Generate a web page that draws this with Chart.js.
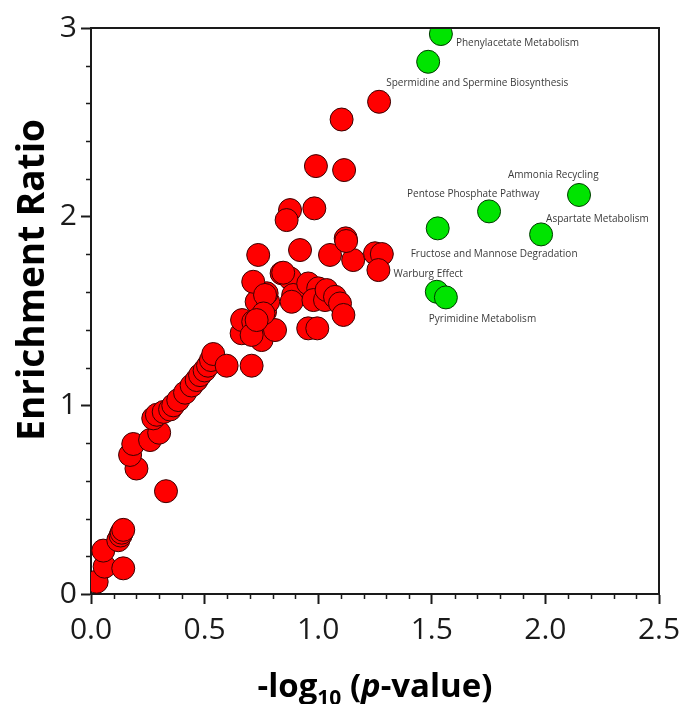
<!DOCTYPE html>
<html>
<head>
<meta charset="utf-8">
<script src="https://cdn.jsdelivr.net/npm/chart.js@4.4.1/dist/chart.umd.min.js"></script>
<style>
  html, body { margin: 0; padding: 0; background: #fff; }
  #wrap { width: 681px; height: 704px; }
</style>
</head>
<body>
<div id="wrap"><canvas id="c" width="681" height="704"></canvas></div>
<script>
// ---- data ----
const redX = [0.025, 0.06, 0.054, 0.142, 0.12, 0.13, 0.135, 0.142, 0.33, 0.20,
              0.172, 0.186, 0.26, 0.30, 0.274, 0.29, 0.32, 0.348, 0.362, 0.384,
              0.414, 0.443, 0.465, 0.48, 0.50, 0.515, 0.528, 0.538, 0.597, 0.707,
              0.663, 0.665, 0.714, 0.751, 0.707, 0.751, 0.766, 0.729, 0.78, 0.773,
              0.714, 0.736, 0.81, 0.839, 0.876, 0.89, 0.883, 0.956, 1.0, 0.979,
              1.03, 1.037, 1.074, 1.096, 1.111, 0.956, 0.996, 0.92, 1.052, 1.154,
              1.25, 1.28, 1.265, 1.121, 1.123, 0.876, 0.861, 0.983, 0.99, 1.114,
              1.103, 1.268, 0.846, 0.766, 0.759, 0.729];
const redY = [0.065, 0.145, 0.23, 0.136, 0.285, 0.31, 0.325, 0.34, 0.545, 0.665,
              0.737, 0.795, 0.816, 0.855, 0.931, 0.95, 0.965, 0.978, 1.0, 1.028,
              1.067, 1.105, 1.134, 1.16, 1.185, 1.21, 1.24, 1.272, 1.21, 1.21,
              1.382, 1.452, 1.443, 1.346, 1.373, 1.461, 1.496, 1.549, 1.549, 1.594,
              1.655, 1.797, 1.399, 1.70, 1.673, 1.585, 1.549, 1.646, 1.62, 1.558,
              1.558, 1.611, 1.575, 1.54, 1.479, 1.408, 1.408, 1.823, 1.797, 1.77,
              1.806, 1.802, 1.717, 1.885, 1.871, 2.035, 1.982, 2.044, 2.268, 2.247,
              2.515, 2.609, 1.703, 1.585, 1.487, 1.452];
const greenX = [1.540, 1.484, 2.148, 1.752, 1.981, 1.526, 1.522, 1.562];
const greenY = [2.968, 2.821, 2.115, 2.028, 1.906, 1.938, 1.602, 1.572];
const greenNames = ['Phenylacetate Metabolism', 'Spermidine and Spermine Biosynthesis',
                    'Ammonia Recycling', 'Pentose Phosphate Pathway', 'Aspartate Metabolism',
                    'Fructose and Mannose Degradation', 'Pyrimidine Metabolism', ''];
const redNamedIndex = 62;           // red point carrying a name
const redNamedText = 'Warburg Effect';
const xTicks = [0, 0.5, 1.0, 1.5, 2.0, 2.5];
const yTicks = [0, 1, 2, 3];

// ---- label placement (pixel offsets from the point, left-aligned text) ----
const labelOffsets = {
  'Phenylacetate Metabolism': [15, 9],
  'Spermidine and Spermine Biosynthesis': [-42, 21],
  'Ammonia Recycling': [-71, -20],
  'Pentose Phosphate Pathway': [-82, -17],
  'Aspartate Metabolism': [5, -15],
  'Fructose and Mannose Degradation': [-27, 26],
  'Pyrimidine Metabolism': [-8, 27],
  'Warburg Effect': [15, 4]
};

const toPts = (xs, ys) => xs.map((x, i) => ({ x: x, y: ys[i] }));

const FONT = "'Open Sans', 'Noto Sans', sans-serif";
const INK = '#1a1a1a';

const decorPlugin = {
  id: 'decor',
  afterDraw(chart) {
    const ctx = chart.ctx;
    const xs = chart.scales.x, ys = chart.scales.y;
    const a = chart.chartArea;
    ctx.save();
    // frame top & right
    ctx.strokeStyle = INK;
    ctx.lineWidth = 2;
    ctx.beginPath();
    ctx.moveTo(a.left, a.top); ctx.lineTo(a.right, a.top); ctx.lineTo(a.right, a.bottom);
    ctx.stroke();
    // minor ticks
    ctx.lineWidth = 1.5;
    ctx.beginPath();
    for (let i = 1; i < 25; i++) {
      if (i % 5 === 0) continue;
      const px = Math.round(xs.getPixelForValue(i / 10)) + 0.5;
      ctx.moveTo(px, a.bottom); ctx.lineTo(px, a.bottom + 5);
    }
    for (let i = 1; i < 15; i++) {
      if (i % 5 === 0) continue;
      const py = Math.round(ys.getPixelForValue(i * 0.2)) + 0.5;
      ctx.moveTo(a.left, py); ctx.lineTo(a.left - 5, py);
    }
    ctx.stroke();

    // point labels
    ctx.fillStyle = '#3a3a3a';
    ctx.font = "10px " + FONT;
    ctx.textAlign = 'left';
    ctx.textBaseline = 'middle';
    const drawLabel = (name, vx, vy) => {
      if (!name) return;
      const off = labelOffsets[name] || [12, 0];
      ctx.fillText(name, xs.getPixelForValue(vx) + off[0], ys.getPixelForValue(vy) + off[1]);
    };
    greenNames.forEach((n, i) => drawLabel(n, greenX[i], greenY[i]));
    drawLabel(redNamedText, redX[redNamedIndex], redY[redNamedIndex]);

    // y axis title
    ctx.fillStyle = '#000';
    ctx.font = "bold 37px " + FONT;
    ctx.textAlign = 'center';
    ctx.textBaseline = 'middle';
    ctx.save();
    ctx.translate(33, 280);
    ctx.rotate(-Math.PI / 2);
    ctx.fillText('Enrichment Ratio', 0, 0);
    ctx.restore();

    // x axis title: -log10 (p-value)
    const parts = [
      { t: '-log', f: "bold 33px " + FONT, dy: 0 },
      { t: '10', f: "bold 21px " + FONT, dy: 8 },
      { t: ' (', f: "bold 33px " + FONT, dy: 0 },
      { t: 'p', f: "italic bold 33px " + FONT, dy: 0 },
      { t: '-value)', f: "bold 33px " + FONT, dy: 0 }
    ];
    let total = 0;
    parts.forEach(p => { ctx.font = p.f; p.w = ctx.measureText(p.t).width; total += p.w; });
    let cx = (a.left + a.right) / 2 - total / 2;
    const baseY = 697;
    ctx.textAlign = 'left';
    ctx.textBaseline = 'alphabetic';
    parts.forEach(p => { ctx.font = p.f; ctx.fillText(p.t, cx, baseY + p.dy); cx += p.w; });
    ctx.restore();
  }
};

new Chart(document.getElementById('c'), {
  type: 'scatter',
  data: {
    datasets: [
      {
        label: 'other',
        data: toPts(redX, redY),
        backgroundColor: '#ff0000',
        borderColor: '#3a0000',
        borderWidth: 1,
        pointRadius: 11.5,
        pointHoverRadius: 11.5
      },
      {
        label: 'significant',
        data: toPts(greenX, greenY),
        backgroundColor: '#00e400',
        borderColor: '#003a00',
        borderWidth: 1,
        pointRadius: 11.5,
        pointHoverRadius: 11.5
      }
    ]
  },
  options: {
    responsive: false,
    devicePixelRatio: 1,
    animation: false,
    events: [],
    layout: { padding: { top: 28, right: 22, left: 0, bottom: 0 } },
    plugins: { legend: { display: false }, tooltip: { enabled: false } },
    scales: {
      x: {
        type: 'linear',
        min: 0, max: 2.5,
        afterFit(s) { s.height = 110; s.paddingRight = 0; s.paddingLeft = 0; },
        afterBuildTicks(s) { s.ticks = xTicks.map(v => ({ value: v })); },
        border: { display: true, color: INK, width: 2 },
        grid: { drawOnChartArea: false, drawTicks: true, tickLength: 10, tickWidth: 2, tickColor: INK },
        ticks: {
          color: INK, padding: 8, maxRotation: 0, autoSkip: false,
          font: { family: FONT, size: 30 },
          callback: v => Number(v).toFixed(1)
        }
      },
      y: {
        type: 'linear',
        min: 0, max: 3,
        afterFit(s) { s.width = 91; s.paddingTop = 0; s.paddingBottom = 0; },
        afterBuildTicks(s) { s.ticks = yTicks.map(v => ({ value: v })); },
        border: { display: true, color: INK, width: 2 },
        grid: { drawOnChartArea: false, drawTicks: true, tickLength: 10, tickWidth: 2, tickColor: INK },
        ticks: {
          color: INK, padding: 4, autoSkip: false,
          font: { family: FONT, size: 30 },
          callback: v => String(v)
        }
      }
    }
  },
  plugins: [decorPlugin]
});
</script>
</body>
</html>
